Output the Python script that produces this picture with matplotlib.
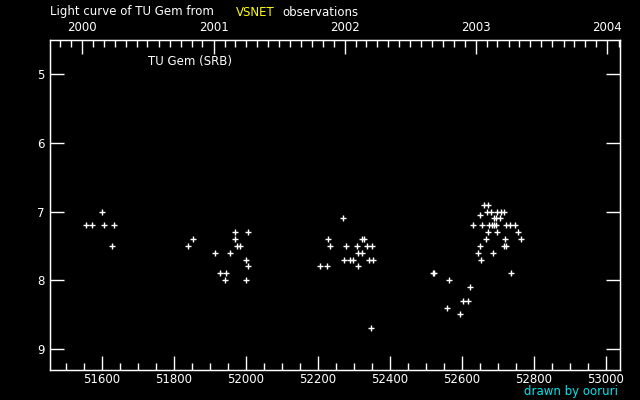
"""Light curve of TU Gem (VSNET visual estimates), MJD on the bottom, calendar years on top."""

import matplotlib

matplotlib.use("Agg")
import matplotlib.pyplot as plt  # noqa: E402
import pandas as pd  # noqa: E402
from matplotlib.ticker import MultipleLocator  # noqa: E402

# observations: MJD, visual magnitude
MJD = [
    51556, 51572, 51600, 51606, 51628, 51634,
    51839, 51853, 51914, 51928, 51942, 51945, 51956, 51970, 51970, 51976,
    51984, 52000, 52006, 52006, 52000,
    52206, 52226, 52229, 52234, 52270, 52273, 52279, 52290, 52298, 52309,
    52312, 52312, 52322, 52323, 52329, 52337, 52343, 52348, 52351, 52354,
    52519, 52522, 52560, 52565, 52596, 52604, 52618, 52624, 52632, 52646,
    52651, 52651, 52654, 52657, 52662, 52668, 52671, 52674, 52674, 52677,
    52684, 52682, 52687, 52690, 52690, 52696, 52696, 52699, 52699, 52707,
    52710, 52717, 52718, 52721, 52724, 52724, 52735, 52738, 52749, 52757,
    52765,
]
MAG = [
    7.2, 7.2, 7.0, 7.2, 7.5, 7.2,
    7.5, 7.4, 7.6, 7.9, 8.0, 7.9, 7.6, 7.3, 7.4, 7.5,
    7.5, 7.7, 7.3, 7.8, 8.0,
    7.8, 7.8, 7.4, 7.5, 7.1, 7.7, 7.5, 7.7, 7.7, 7.5,
    7.6, 7.8, 7.4, 7.6, 7.4, 7.5, 7.7, 8.7, 7.5, 7.7,
    7.9, 7.9, 8.4, 8.0, 8.5, 8.3, 8.3, 8.1, 7.2, 7.6,
    7.05, 7.5, 7.7, 7.2, 6.9, 7.4, 7.0, 6.9, 7.3, 7.2,
    7.2, 7.0, 7.6, 7.1, 7.2, 7.1, 7.2, 7.0, 7.3, 7.1,
    7.0, 7.0, 7.5, 7.4, 7.2, 7.5, 7.2, 7.9, 7.2, 7.3,
    7.4,
]

YEARS = [2000, 2001, 2002, 2003, 2004]
MJD_TICKS = [51600, 51800, 52000, 52200, 52400, 52600, 52800, 53000]
MAG_TICKS = [5, 6, 7, 8, 9]

XLIM = (51455, 53040)
YLIM = (9.31, 4.5)
MJD0 = pd.Timestamp("1858-11-17")


def to_mjd(ts):
    return (ts - MJD0).days


def main() -> None:
    fig = plt.figure(figsize=(6.4, 4.0), dpi=100, facecolor="black")
    ax = fig.add_axes([50 / 640, 30 / 400, 570 / 640, 330 / 400])
    ax.set_facecolor("black")

    ax.plot(MJD, MAG, ls="none", marker="+", ms=4, mew=1.0, color="white")

    ax.set_xlim(*XLIM)
    ax.set_ylim(*YLIM)
    for sp in ax.spines.values():
        sp.set_color("white")
        sp.set_linewidth(1.0)

    ax.set_xticks(MJD_TICKS)
    ax.set_xticklabels([str(t) for t in MJD_TICKS])
    ax.xaxis.set_minor_locator(MultipleLocator(50))
    ax.set_yticks(MAG_TICKS)
    ax.set_yticklabels([str(t) for t in MAG_TICKS])
    ax.tick_params(which="both", direction="in", colors="white", labelsize=8.5,
                   width=1.0, top=False, right=True, labelright=False)
    ax.tick_params(which="major", length=10, pad=4)
    ax.tick_params(axis="x", which="major", pad=2)
    ax.tick_params(which="minor", length=5)
    ax.tick_params(axis="y", which="minor", left=False, right=False)

    # calendar years along the top, monthly minor ticks
    top = ax.twiny()
    top.set_xlim(*XLIM)
    year_mjd = [to_mjd(pd.Timestamp(f"{y}-01-01")) for y in YEARS]
    top.set_xticks(year_mjd)
    top.set_xticklabels([str(y) for y in YEARS])
    months = pd.date_range("1999-11-01", "2004-03-01", freq="MS")
    top.set_xticks([to_mjd(m) for m in months if XLIM[0] < to_mjd(m) < XLIM[1]], minor=True)
    top.tick_params(which="both", direction="in", colors="white", labelsize=8.5, width=1.0)
    top.tick_params(which="major", length=10, pad=4)
    top.tick_params(which="minor", length=5)
    for sp in top.spines.values():
        sp.set_color("white")

    # title in three pieces so VSNET can be yellow
    fig.text(50 / 640, 1 - 12 / 400, "Light curve of TU Gem from", color="white",
             fontsize=8.5, va="center", ha="left")
    fig.text(236 / 640, 1 - 12 / 400, "VSNET", color="yellow",
             fontsize=8.5, va="center", ha="left")
    fig.text(282 / 640, 1 - 12 / 400, "observations", color="white",
             fontsize=8.5, va="center", ha="left")

    fig.text(148 / 640, 1 - 62 / 400, "TU Gem (SRB)", color="white",
             fontsize=8.5, va="center", ha="left")
    fig.text(618 / 640, 1 - 392 / 400, "drawn by ooruri", color="#00e5ee",
             fontsize=8.5, va="center", ha="right")

    fig.savefig("out.png", dpi=100, facecolor="black")


if __name__ == "__main__":
    main()
